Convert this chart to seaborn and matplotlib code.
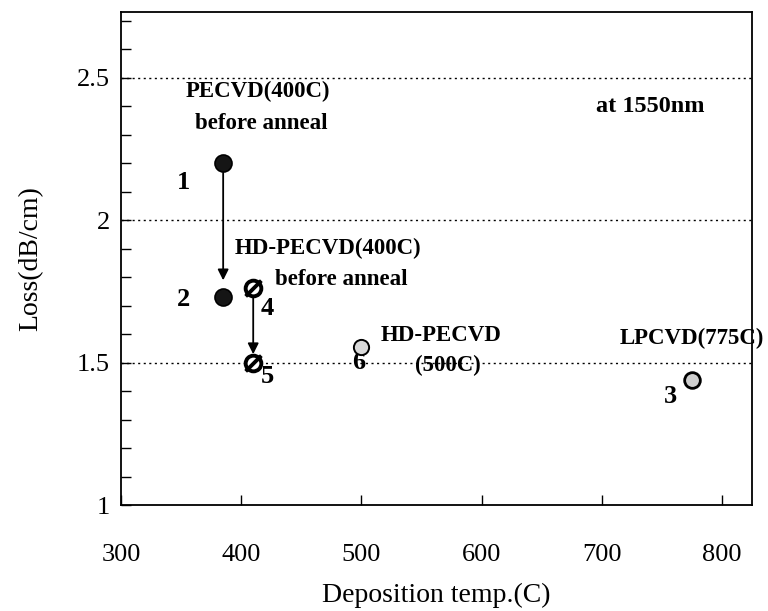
import matplotlib
matplotlib.use("Agg")
import matplotlib.pyplot as plt
import seaborn as sns
import pandas as pd
from matplotlib.path import Path

# ---- data ----
point_ids = ["1", "2", "3", "4", "5", "6"]
temps = [385, 385, 775, 410, 410, 500]
loss = [2.2, 1.73, 1.44, 1.76, 1.5, 1.555]
groups = ["pecvd", "pecvd", "lpcvd", "hd400", "hd400", "hd500"]

x_ticks = [300, 400, 500, 600, 700, 800]
y_ticks = [1, 1.5, 2, 2.5]
y_tick_labels = ["1", "1.5", "2", "2.5"]

df = pd.DataFrame({"id": point_ids, "temp": temps, "loss": loss, "group": groups})

sns.set_theme(style="white")
plt.rcParams["font.family"] = ["Liberation Serif", "DejaVu Serif"]

fig = plt.figure(figsize=(7.68, 6.11), dpi=100)
ax = fig.add_axes([121 / 768, 1 - 505 / 611, (752 - 121) / 768, (505 - 12) / 611])

ms = 150
# PECVD filled black
d = df[df.group == "pecvd"]
sns.scatterplot(data=d, x="temp", y="loss", ax=ax, s=ms, color="#151515",
                edgecolor="black", linewidth=1.2, zorder=5, legend=False)
# HD-PECVD 400C: white with thick edge and slash
d = df[df.group == "hd400"]
sns.scatterplot(data=d, x="temp", y="loss", ax=ax, s=ms * 0.85, color="white",
                edgecolor="black", linewidth=2.8, zorder=5, legend=False)
slash = Path([[-0.6, -0.6], [0.6, 0.6]], [Path.MOVETO, Path.LINETO])
ax.scatter(d.temp, d.loss, marker=slash, s=ms * 0.85, color="black",
           linewidths=2.8, zorder=6)
# HD-PECVD 500C: light grey, thin edge
d = df[df.group == "hd500"]
sns.scatterplot(data=d, x="temp", y="loss", ax=ax, s=ms * 0.8, color="#d9d9d9",
                edgecolor="black", linewidth=1.4, zorder=5, legend=False)
# LPCVD: grey, thicker edge
d = df[df.group == "lpcvd"]
sns.scatterplot(data=d, x="temp", y="loss", ax=ax, s=ms * 0.85, color="#cfcfcf",
                edgecolor="black", linewidth=2.0, zorder=5, legend=False)

# arrows
ax.annotate("", xy=(temps[1], loss[1]), xytext=(temps[0], loss[0]),
            arrowprops=dict(arrowstyle="-|>", color="black", lw=1.3,
                            shrinkA=7, shrinkB=12, mutation_scale=16), zorder=4)
ax.annotate("", xy=(temps[4], loss[4]), xytext=(temps[3], loss[3]),
            arrowprops=dict(arrowstyle="-|>", color="black", lw=1.3,
                            shrinkA=7, shrinkB=6, mutation_scale=16), zorder=4)

# axes
ax.set_xlim(300, 825)
ax.set_ylim(1, 2.73)
ax.set_xticks(x_ticks)
ax.set_yticks(y_ticks)
ax.set_yticklabels(y_tick_labels)
ax.set_yticks([1.1, 1.2, 1.3, 1.4, 1.6, 1.7, 1.8, 1.9, 2.1, 2.2, 2.3, 2.4, 2.6, 2.7], minor=True)
ax.tick_params(axis="both", which="both", direction="in", color="black",
               labelcolor="black", labelsize=19, length=7, width=1)
ax.tick_params(axis="x", which="major", pad=28)
ax.tick_params(axis="y", which="major", pad=8)
ax.tick_params(axis="y", which="both", left=True)
ax.tick_params(axis="x", which="both", bottom=True)
for sp in ax.spines.values():
    sp.set_color("black")
    sp.set_linewidth(1.3)

for yv in y_ticks[1:]:
    ax.axhline(yv, color="black", linestyle=(0, (1.5, 2.5)), linewidth=1.0, zorder=1)

ax.set_xlabel("Deposition temp.(C)", fontsize=20, color="black", labelpad=12)
ax.set_ylabel("Loss(dB/cm)", fontsize=20, color="black", labelpad=24)

# annotations
bold = dict(fontweight="bold", color="black", ha="center", va="center")
fs = 16.5
ax.text(414, 2.45, "PECVD(400C)", fontsize=fs, **bold)
ax.text(417, 2.34, "before anneal", fontsize=fs, **bold)
ax.text(740, 2.40, "at 1550nm", fontsize=fs + 1, **bold)
ax.text(472, 1.90, "HD-PECVD(400C)", fontsize=fs, **bold)
ax.text(483, 1.79, "before anneal", fontsize=fs, **bold)
ax.text(566, 1.595, "HD-PECVD", fontsize=fs, **bold)
ax.text(572, 1.49, "(500C)", fontsize=fs, **bold)
ax.text(775, 1.585, "LPCVD(775C)", fontsize=fs, clip_on=False, **bold)

ax.text(352, 2.13, point_ids[0], fontsize=19, **bold)
ax.text(352, 1.72, point_ids[1], fontsize=19, **bold)
ax.text(757, 1.38, point_ids[2], fontsize=19, **bold)
ax.text(422, 1.69, point_ids[3], fontsize=19, **bold)
ax.text(422, 1.45, point_ids[4], fontsize=19, **bold)
ax.text(498, 1.5, point_ids[5], fontsize=19, **bold)

fig.savefig("out.png", dpi=100, facecolor="white")
